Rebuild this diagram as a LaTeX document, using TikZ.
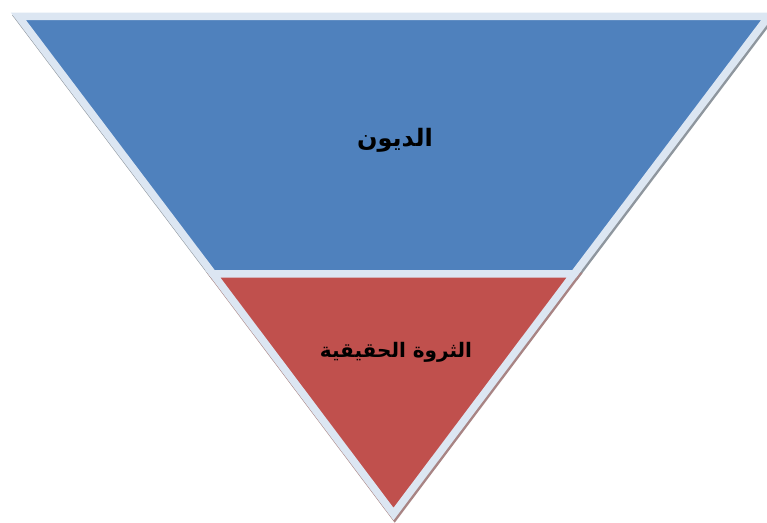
\documentclass[tikz,border=0pt]{standalone}
\usepackage{fontspec}
\newfontfamily\arabicfont[Script=Arabic]{DejaVu Sans}
\TeXXeTstate=1
\definecolor{segblue}{HTML}{4F81BD}
\definecolor{segred}{HTML}{C0504D}
\definecolor{segline}{HTML}{DCE6F2}
\definecolor{shadowblue}{HTML}{8E969E}
\definecolor{shadowred}{HTML}{A88484}
\tikzset{
  seg/.style={draw=segline, line width=7.5pt, line join=miter, miter limit=20},
  segshadow/.style={draw=#1, fill=#1, line width=7.5pt, line join=miter, miter limit=20},
  lbl/.style={font=\arabicfont\bfseries, text=black, inner sep=0pt}
}
\begin{document}
\begin{tikzpicture}[x=1pt,y=1pt]
\useasboundingbox (0,0) rectangle (767,522);
\fill[white] (0,0) rectangle (767,522);
% shadows
\begin{scope}[shift={(1.2,-2.5)}]
  \path[segshadow=shadowblue] (18.5,505.5) -- (768.5,505.5) -- (574,248) -- (213,248) -- cycle;
  \path[segshadow=shadowred] (213,248) -- (574,248) -- (393.5,8) -- cycle;
\end{scope}
% segments
\path[seg, fill=segblue] (18.5,505.5) -- (768.5,505.5) -- (574,248) -- (213,248) -- cycle;
\path[seg, fill=segred] (213,248) -- (574,248) -- (393.5,8) -- cycle;
% labels
\node[lbl, font=\arabicfont\bfseries\fontsize{24}{28}\selectfont] (debt) at (395,382) {\beginR الديون\endR};
\node[lbl, font=\arabicfont\bfseries\fontsize{20}{24}\selectfont] (wealth) at (396,170) {\beginR الثروة الحقيقية\endR};
\end{tikzpicture}
\end{document}
